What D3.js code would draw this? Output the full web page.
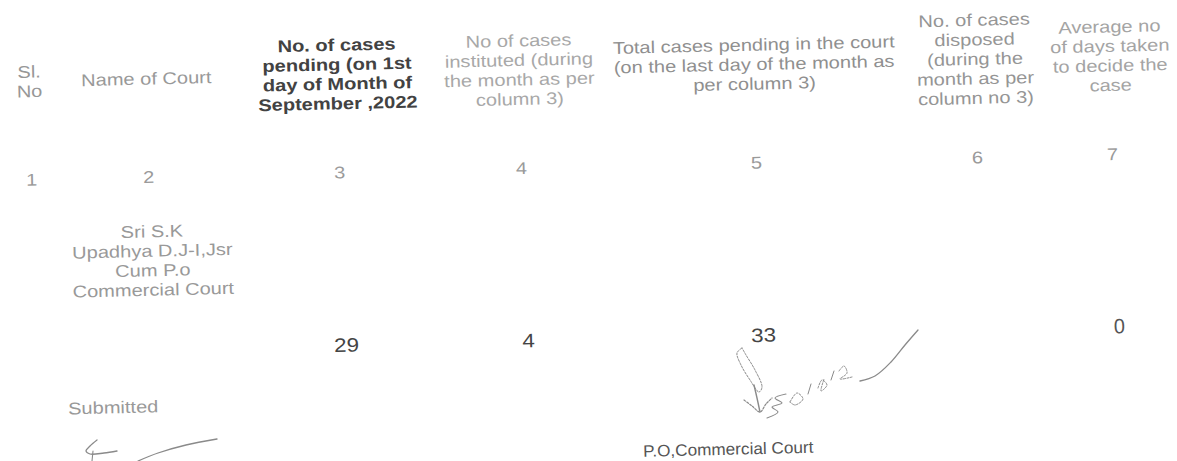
<!DOCTYPE html>
<html>
<head>
<meta charset="utf-8">
<script src="https://cdn.jsdelivr.net/npm/d3@7/dist/d3.min.js"></script>
<style>
  html, body { margin: 0; padding: 0; background: #fff; }
  #sheet { width: 1177px; height: 461px; }
  text { font-family: "Liberation Sans", Arial, Helvetica, sans-serif; }
</style>
</head>
<body>
<div id="sheet"></div>
<script>
// monthly return - commercial court (scanned table look)
const colKeys = ["sl", "court", "pending", "instituted", "total", "disposed", "avgDays"];
const colNumbers = ["1", "2", "3", "4", "5", "6", "7"];
const headerLines = [
  ["Sl.", "No"],
  ["Name of Court"],
  ["No. of cases", "pending (on 1st", "day of Month of", "September ,2022"],
  ["No of cases", "instituted (during", "the month as per", "column 3)"],
  ["Total cases pending in the court", "(on the last day of the month as", "per column 3)"],
  ["No. of cases", "disposed", "(during the", "month as per", "column no  3)"],
  ["Average no", "of days taken", "to decide the", "case"]
];
const courtNames = [["Sri S.K", "Upadhya  D.J-I,Jsr", "Cum P.o", "Commercial Court"]];
const pendingStart = [29];
const instituted = [4];
const totalPending = [33];
const disposed = [null];
const avgDays = [0];
const footerLeft = "Submitted";
const footerRight = "P.O,Commercial Court";

(function(){
  const container = d3.select('#sheet');
  container.selectAll('*').remove();

  const width = 1177, height = 461;
  const svg = container.append('svg')
    .attr('width', width).attr('height', height)
    .attr('viewBox', `0 0 ${width} ${height}`);

  // scan is a bit skewed and stretched sideways
  const skew = -1.36, sx = 1.18, lh = 19.5;

  // column widths -> centres
  const colWidths = [66, 168, 214, 150, 320, 122, 148];
  const edges = d3.cumsum([0, ...colWidths]);
  const x = d3.scaleOrdinal()
    .domain(colKeys)
    .range(colKeys.map((k, i) => (edges[i] + edges[i + 1]) / 2));

  const page = svg.append('g')
    .attr('transform', `rotate(${skew},${width / 2},230)`);

  const headStyle = [
    { fill: '#979797' }, { fill: '#999' },
    { fill: '#424242', weight: 'bold' },
    { fill: '#a8a8a8' }, { fill: '#8f8f8f' },
    { fill: '#959595' }, { fill: '#a4a4a4' }
  ];

  function block(g, lines, cx, yMid, opt){
    const size = opt.size || 17;
    const first = -(lines.length - 1) * lh / 2 + size * 0.36;
    const t = g.append('text')
      .attr('transform', `translate(${cx},${yMid}) scale(${opt.sx || sx},1)`)
      .attr('text-anchor', opt.anchor || 'middle')
      .attr('font-size', size)
      .attr('font-weight', opt.weight || 'normal')
      .attr('fill', opt.fill || '#888');
    t.selectAll('tspan').data(lines).join('tspan')
      .attr('x', 0)
      .attr('y', (d, i) => first + i * lh)
      .text(d => d);
    return t;
  }

  // header row
  const headG = page.append('g').attr('class', 'head');
  colKeys.forEach((k, i) => block(headG, headerLines[i], x(k), 68, headStyle[i]));

  // column number row
  page.append('g').attr('class', 'colnums')
    .selectAll('text').data(colNumbers).join('text')
    .attr('transform', (d, i) => `translate(${x(colKeys[i])},172.5) scale(${sx},1)`)
    .attr('text-anchor', 'middle')
    .attr('font-size', 17)
    .attr('fill', '#9a9a9a')
    .text(d => d);

  // body rows
  const rows = courtNames.map((c, i) => ({
    court: c,
    pending: pendingStart[i],
    instituted: instituted[i],
    total: totalPending[i],
    disposed: disposed[i],
    avgDays: avgDays[i]
  }));

  const bodyG = page.append('g').attr('class', 'body');
  rows.forEach((r, ri) => {
    block(bodyG, r.court, x('court') + 2, 250 + ri * 120, { fill: '#999' });
    const cells = ['pending', 'instituted', 'total', 'disposed', 'avgDays']
      .filter(k => r[k] != null)
      .map(k => ({ k, v: r[k] }));
    bodyG.selectAll(null).data(cells).join('text')
      .attr('transform', d => `translate(${x(d.k) + 3},${346 + ri * 120}) scale(${d.k === 'avgDays' ? 0.95 : 1.15},1)`)
      .attr('text-anchor', 'middle')
      .attr('font-size', d => d.k === 'avgDays' ? 21 : 19.5)
      .attr('fill', d => d.k === 'avgDays' ? '#555' : '#444')
      .text(d => d3.format('d')(d.v));
  });

  // footer
  page.append('text')
    .attr('transform', `translate(64,402) scale(${sx},1)`)
    .attr('font-size', 17).attr('fill', '#999')
    .text(footerLeft);
  page.append('text')
    .attr('transform', `translate(723,458) scale(1.04,1)`)
    .attr('text-anchor', 'middle')
    .attr('font-size', 16.5).attr('fill', '#555')
    .text(footerRight);

  // pen marks (signatures), screen coords
  const ink = [
    { p: [[97,440],[90,446],[86,451],[90,454],[104,453],[117,451]], w: 1.3 },
    { p: [[93,451],[92,461]], w: 1.1 },
    { p: [[138,461],[158,453],[186,445],[217,439]], w: 1.3 },
    { p: [[742,348],[737,353],[741,365],[750,380],[759,392],[762,387],[755,370],[746,355],[742,348]], w: 1, dash: '2,1.5' },
    { p: [[754,385],[757,398],[760,412]], w: 1.4 },
    { p: [[744,400],[752,406],[760,412],[766,404],[772,398]], w: 1.2, dash: '2,1.5' },
    { p: [[767,418],[778,412],[772,407],[782,403],[775,398],[786,394]], w: 1.1 },
    { p: [[790,402],[797,393],[803,399],[795,405],[790,402]], w: 1, dash: '2,1.5' },
    { p: [[808,394],[811,384]], w: 1 },
    { p: [[818,388],[822,380],[827,385],[821,391],[824,379]], w: 1, dash: '2,1.5' },
    { p: [[831,380],[834,371]], w: 1 },
    { p: [[839,371],[844,366],[847,373],[840,379],[852,377]], w: 1, dash: '2,1.5' },
    { p: [[860,381],[875,376],[891,362],[905,345],[918,330]], w: 1.3 }
  ];
  const line = d3.line().curve(d3.curveCatmullRom.alpha(0.5));
  svg.append('g').attr('class', 'ink')
    .selectAll('path').data(ink).join('path')
    .attr('d', d => line(d.p))
    .attr('fill', 'none')
    .attr('stroke', '#8a8a8a')
    .attr('stroke-width', d => d.w)
    .attr('stroke-linecap', 'round')
    .attr('stroke-dasharray', d => d.dash || null);
})();
</script>
</body>
</html>
